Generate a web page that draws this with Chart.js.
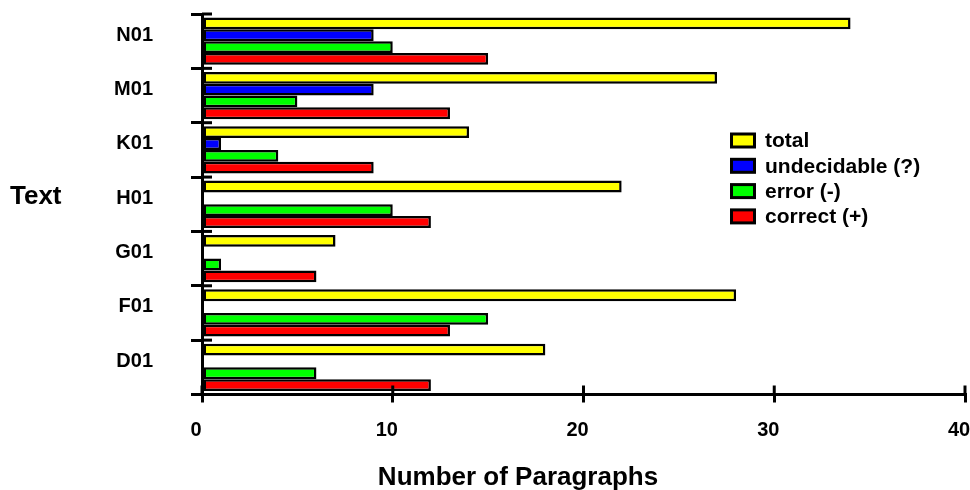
<!DOCTYPE html>
<html>
<head>
<meta charset="utf-8">
<style>
  html, body { margin: 0; padding: 0; background: #fff; }
  #wrap { width: 970px; height: 490px; position: relative; }
</style>
<script src="https://cdn.jsdelivr.net/npm/chart.js@4.4.1/dist/chart.umd.min.js"></script>
</head>
<body>
<div id="wrap"><canvas id="c" width="970" height="490"></canvas></div>
<script>
const categories = ['N01', 'M01', 'K01', 'H01', 'G01', 'F01', 'D01'];
const totalValues = [34, 27, 14, 22, 7, 28, 18];
const undecidableValues = [9, 9, 1, 0, 0, 0, 0];
const errorValues = [10, 5, 4, 10, 1, 15, 6];
const correctValues = [15, 13, 9, 12, 6, 13, 12];
const seriesLabels = ['total', 'undecidable (?)', 'error (-)', 'correct (+)'];
const seriesColors = ['#FFFF00', '#0000FF', '#00FF00', '#FF0000'];
const xTickValues = [0, 10, 20, 30, 40];
const xAxisTitle = 'Number of Paragraphs';
const yAxisTitle = 'Text';

const FONT = '"Liberation Sans", Arial, Helvetica, sans-serif';

const seriesValues = [totalValues, undecidableValues, errorValues, correctValues];

const decorPlugin = {
  id: 'decor',
  afterDatasetsDraw(chart) {
    const ctx = chart.ctx;
    const xs = chart.scales.x, ys = chart.scales.y;
    const area = chart.chartArea;
    ctx.save();
    ctx.strokeStyle = '#000';
    ctx.lineWidth = 3;
    ctx.lineCap = 'butt';
    // inner halves of the x ticks
    xTickValues.forEach(v => {
      const px = xs.getPixelForValue(v);
      ctx.beginPath();
      ctx.moveTo(px, area.bottom);
      ctx.lineTo(px, area.bottom - 9);
      ctx.stroke();
    });
    // inner halves of the y ticks (category boundaries)
    for (let i = 0; i <= categories.length; i++) {
      const py = ys.getPixelForValue(i - 0.5);
      ctx.beginPath();
      ctx.moveTo(area.left, py);
      ctx.lineTo(area.left + 10, py);
      ctx.stroke();
    }
    ctx.restore();
  },
  afterDraw(chart) {
    const ctx = chart.ctx;
    ctx.save();
    ctx.fillStyle = '#000';
    // axis titles
    ctx.font = 'bold 26px ' + FONT;
    ctx.textAlign = 'center';
    ctx.textBaseline = 'alphabetic';
    ctx.fillText(xAxisTitle, 518, 485);
    ctx.textAlign = 'left';
    ctx.textBaseline = 'middle';
    ctx.fillText(yAxisTitle, 10, 197);
    // legend
    chart.data.datasets.forEach((ds, i) => {
      const cy = 140.5 + i * 25.3;
      ctx.fillStyle = '#000';
      ctx.fillRect(730, cy - 8, 26, 16);
      ctx.fillStyle = ds.backgroundColor;
      ctx.fillRect(733, cy - 5, 20, 10);
      ctx.fillStyle = '#000';
      ctx.font = 'bold 21px ' + FONT;
      ctx.textAlign = 'left';
      ctx.textBaseline = 'middle';
      ctx.fillText(ds.label, 765, cy + 1);
    });
    ctx.restore();
  }
};

new Chart(document.getElementById('c'), {
  type: 'bar',
  data: {
    labels: categories,
    datasets: seriesLabels.map((label, i) => ({
      label: label,
      data: seriesValues[i],
      backgroundColor: seriesColors[i],
      borderColor: '#000',
      borderWidth: 2.5,
      borderSkipped: false,
      inflateAmount: 0,
      categoryPercentage: 0.87,
      barPercentage: 1.0
    }))
  },
  options: {
    indexAxis: 'y',
    responsive: false,
    animation: false,
    devicePixelRatio: 1,
    datasets: { bar: { categoryPercentage: 0.87, barPercentage: 1.0 } },
    layout: { padding: { top: 14, right: 5, left: 0, bottom: 0 } },
    plugins: {
      legend: { display: false },
      tooltip: { enabled: false }
    },
    scales: {
      x: {
        type: 'linear',
        min: 0,
        max: 40,
        afterBuildTicks(scale) { scale.ticks = xTickValues.map(v => ({ value: v })); },
        ticks: {
          color: '#000',
          font: { family: FONT, size: 20, weight: 'bold' },
          padding: 16,
          labelOffset: -6,
          maxRotation: 0
        },
        grid: {
          display: true,
          drawOnChartArea: false,
          drawTicks: true,
          tickLength: 8,
          color: '#000',
          lineWidth: 3
        },
        border: { display: true, color: '#000', width: 3 },
        afterFit(scale) {
          scale.height = 95.5;
          scale.paddingLeft = 0;
          scale.paddingRight = 0;
        }
      },
      y: {
        type: 'category',
        ticks: {
          color: '#000',
          font: { family: FONT, size: 20, weight: 'bold' },
          padding: 38,
          labelOffset: -6
        },
        grid: {
          display: true,
          offset: true,
          drawOnChartArea: false,
          drawTicks: true,
          tickLength: 11,
          color: '#000',
          lineWidth: 3
        },
        border: { display: true, color: '#000', width: 3 },
        afterFit(scale) {
          scale.width = 202;
          scale.paddingTop = 0;
          scale.paddingBottom = 0;
        }
      }
    }
  },
  plugins: [decorPlugin]
});
</script>
</body>
</html>
